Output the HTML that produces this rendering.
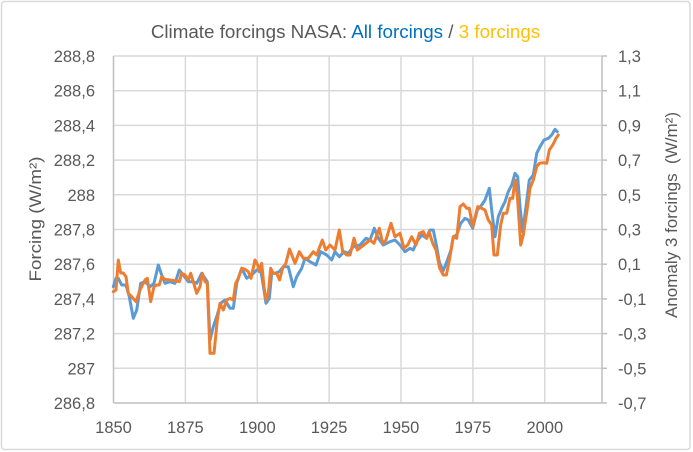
<!DOCTYPE html>
<html><head><meta charset="utf-8"><style>
html,body{margin:0;padding:0;background:#fff;}
svg{display:block;font-family:"Liberation Sans",Arial,sans-serif;}
</style></head><body>
<svg width="693" height="452" viewBox="0 0 693 452" xmlns="http://www.w3.org/2000/svg">
<rect x="0" y="0" width="693" height="452" fill="#fff"/>
<rect x="1.5" y="1.5" width="688.5" height="448" rx="3" fill="#fff" stroke="#d9d9d9" stroke-width="1.5"/>
<g stroke="#d9d9d9" stroke-width="1.5">
<line x1="113.5" y1="56" x2="602" y2="56"/>
<line x1="113.5" y1="90.7" x2="602" y2="90.7"/>
<line x1="113.5" y1="125.4" x2="602" y2="125.4"/>
<line x1="113.5" y1="160.1" x2="602" y2="160.1"/>
<line x1="113.5" y1="194.8" x2="602" y2="194.8"/>
<line x1="113.5" y1="229.5" x2="602" y2="229.5"/>
<line x1="113.5" y1="264.2" x2="602" y2="264.2"/>
<line x1="113.5" y1="298.9" x2="602" y2="298.9"/>
<line x1="113.5" y1="333.6" x2="602" y2="333.6"/>
<line x1="113.5" y1="368.3" x2="602" y2="368.3"/>
<line x1="185.4" y1="56" x2="185.4" y2="403"/>
<line x1="257.3" y1="56" x2="257.3" y2="403"/>
<line x1="329.1" y1="56" x2="329.1" y2="403"/>
<line x1="401" y1="56" x2="401" y2="403"/>
<line x1="472.9" y1="56" x2="472.9" y2="403"/>
<line x1="544.8" y1="56" x2="544.8" y2="403"/>
</g>
<g stroke="#bfbfbf" stroke-width="1.5">
<line x1="113.5" y1="56" x2="113.5" y2="403"/>
<line x1="602" y1="56" x2="602" y2="403"/>
<line x1="113.5" y1="403" x2="602" y2="403"/>
<line x1="602" y1="56" x2="607" y2="56"/>
<line x1="602" y1="90.7" x2="607" y2="90.7"/>
<line x1="602" y1="125.4" x2="607" y2="125.4"/>
<line x1="602" y1="160.1" x2="607" y2="160.1"/>
<line x1="602" y1="194.8" x2="607" y2="194.8"/>
<line x1="602" y1="229.5" x2="607" y2="229.5"/>
<line x1="602" y1="264.2" x2="607" y2="264.2"/>
<line x1="602" y1="298.9" x2="607" y2="298.9"/>
<line x1="602" y1="333.6" x2="607" y2="333.6"/>
<line x1="602" y1="368.3" x2="607" y2="368.3"/>
<line x1="602" y1="403" x2="607" y2="403"/>
</g>
<polyline fill="none" stroke="#5B9BD5" stroke-width="3" stroke-linejoin="round" stroke-linecap="round" points="113.3,286.7 116,278.3 118.3,278.3 121.7,285 126,285 129.3,296.7 133.3,318.3 136.7,310 140.7,283.3 145,281.7 150,286.7 154,283.3 158.3,265 161.7,275 165,283.3 170,281.7 175,283.3 179.3,270 183.3,275 188.3,281.7 193.3,281.7 196.7,283.3 201.7,273.3 205,278.3 207.3,281.7 210,340 213.3,326.7 216.7,316.7 220.7,303.3 225,300 230,308.3 233.3,308.3 236.7,283.3 241.7,268.3 246.7,278.3 251.7,275 256.7,270 260.7,270 264,290 266,303.3 269.3,298.3 271.7,273.3 275,273.3 279.3,271.7 283.3,266.7 288.3,266.7 293.3,286.7 296.7,276.7 301.7,268.3 305,258.3 310,261.7 316,265 320.7,251.7 326.7,255 331.7,260 335,251.7 339.3,256.7 344,251.7 348.3,253.3 353.3,246.7 360,245 366,238.3 370,240 374.3,228.3 378.3,238.3 383.3,245 390,241.7 395,240 400,245 405,251.7 410,248.3 413.3,250 416.7,241.7 421.7,235 426.7,238.3 430,230 433.3,230 436.7,246.7 439.3,262 443,271 446.7,262 451,250 453.3,236.7 456.7,235 460.7,223.3 465,218.3 468.3,220 472.7,228.3 477.3,210 481.7,205 485,200 489.3,188.3 491.7,210 495,236.7 498.3,216.7 501.7,208.3 505,201.7 508.3,191.7 511.7,185 515,173.3 517.7,176.7 520,206.7 522.7,231.7 526,206.7 529.3,180 533.3,175 536.7,153.3 540,146.7 544,140 548.3,138.3 551.7,135 555,129.3 557.3,131.7"/>
<polyline fill="none" stroke="#ED7D31" stroke-width="3" stroke-linejoin="round" stroke-linecap="round" points="113.3,291.7 116,290 118.3,260 120.7,273 123.3,273 126,276.7 128.3,293.3 131.7,296.7 136,301.7 140,290 145,280 147.3,278.3 150.7,301.7 154,286.7 156.7,285 159.3,285 161.7,276.7 165,279.3 170,280 175,280.7 179.3,281.7 181.7,273.3 185,275 188.3,280 190.7,273.3 193.3,281.7 196.7,293.3 200,286.7 202.3,273.3 205,281.7 207.3,283.3 210,353.3 214,353.3 217.3,320 220,303.3 223.3,310 226.7,300 230,298.3 233.3,300 235.7,283.3 238.3,278.3 241.7,268.3 245,269.3 248.3,271.7 251,278.3 255,260 257.7,265 259.3,271.7 261.7,263.3 264,286.7 266,300 268.3,293.3 270.7,268.3 273.3,273.3 276.7,273.3 279.6,280 282.8,267.5 285.8,263.5 289.5,249 295,263.3 299.3,251.7 303.3,258.3 308.3,258.3 313.3,251.7 316.7,255 322.3,240 325.7,250 330,245 335,250 339.3,230 342.7,251.7 346.7,255 350,255 354,238.3 357.3,250 361.7,246.7 366,243.3 370,240 374,243.3 379.3,228.3 382.7,243.3 386,240 391,223.3 395,236.7 400,233.3 404,248.3 407.7,245 411.7,236.7 416,245 419.3,233.3 423.3,231.7 426.7,238.3 429,231.7 432.7,243.3 436,250 439.6,268 443.3,275 446.4,275 450,256.7 453.3,236.7 456.7,238.3 460,206.7 463.3,204 466.7,208.3 469.3,208.3 472.7,226.7 477.7,206.7 481.7,208.3 485,210 488.3,220 491.7,225 494,255 497.3,255 500.7,225 503.3,213.3 506.7,213.3 510,198.3 512.7,198.3 515,180 517.3,195 520.7,245 523.3,235 527.3,208.3 530,188.3 533.3,180 536.7,166.7 539.3,163.3 543.3,162.7 546.7,163.3 549.3,150 552.7,145 556,138.3 558.3,135"/>
<g fill="#595959" font-size="16.5" text-anchor="end">
<text x="95" y="62">288,8</text>
<text x="95" y="96.7">288,6</text>
<text x="95" y="131.4">288,4</text>
<text x="95" y="166.1">288,2</text>
<text x="95" y="200.8">288</text>
<text x="95" y="235.5">287,8</text>
<text x="95" y="270.2">287,6</text>
<text x="95" y="304.9">287,4</text>
<text x="95" y="339.6">287,2</text>
<text x="95" y="374.3">287</text>
<text x="95" y="409">286,8</text>
</g>
<g fill="#595959" font-size="16.5" text-anchor="start">
<text x="618" y="62">1,3</text>
<text x="618" y="96.7">1,1</text>
<text x="618" y="131.4">0,9</text>
<text x="618" y="166.1">0,7</text>
<text x="618" y="200.8">0,5</text>
<text x="618" y="235.5">0,3</text>
<text x="618" y="270.2">0,1</text>
<text x="618" y="304.9">-0,1</text>
<text x="618" y="339.6">-0,3</text>
<text x="618" y="374.3">-0,5</text>
<text x="618" y="409">-0,7</text>
</g>
<g fill="#595959" font-size="16.5" text-anchor="middle">
<text x="113.5" y="433">1850</text>
<text x="185.4" y="433">1875</text>
<text x="257.3" y="433">1900</text>
<text x="329.1" y="433">1925</text>
<text x="401" y="433">1950</text>
<text x="472.9" y="433">1975</text>
<text x="544.8" y="433">2000</text>
</g>
<text x="345.5" y="38" font-size="18.8" text-anchor="middle" fill="#595959">Climate forcings NASA: <tspan fill="#0070C0">All forcings</tspan> / <tspan fill="#FFC000">3 forcings</tspan></text>
<text transform="translate(41,219) rotate(-90)" font-size="17" text-anchor="middle" fill="#595959" textLength="125" lengthAdjust="spacingAndGlyphs">Forcing (W/m²)</text>
<text transform="translate(677,215) rotate(-90)" font-size="17" text-anchor="middle" fill="#595959" textLength="206" lengthAdjust="spacingAndGlyphs" xml:space="preserve">Anomaly 3 forcings  (W/m²)</text>
</svg>
</body></html>
